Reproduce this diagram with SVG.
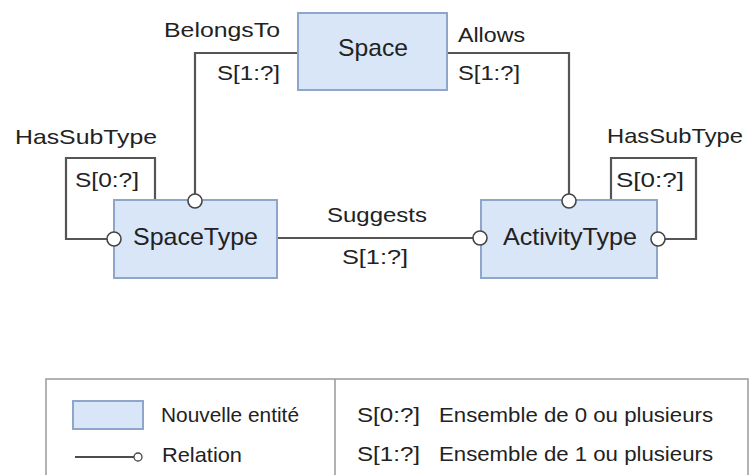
<svg xmlns="http://www.w3.org/2000/svg" width="751" height="475" viewBox="0 0 751 475">
<style>
.node{fill:#d9e6f8;stroke:#8ea6c9;stroke-width:2}
.con{fill:none;stroke:#555;stroke-width:2.2}
.end{fill:#fff;stroke:#444;stroke-width:1.6}
text{font-family:"Liberation Sans",Arial,sans-serif;fill:#222;font-size:21px}
.nm{font-size:24px}
.lg{font-size:21px}
</style>
<rect width="751" height="475" fill="#fff"/>
<g id="connectors">
<path class="con" d="M298,53 H195 V194"/>
<path class="con" d="M447,53 H569 V194"/>
<path class="con" d="M155,200 V158 H66 V239 H107"/>
<path class="con" d="M277,238 H473"/>
<path class="con" d="M611,200 V158 H696 V239 H664"/>
</g>
<g id="space">
<rect class="node" x="298" y="13" width="149" height="77"/>
<text class="nm" x="338" y="56" textLength="70" lengthAdjust="spacingAndGlyphs">Space</text>
</g>
<g id="spacetype">
<rect class="node" x="114" y="200" width="163" height="78"/>
<text class="nm" x="133" y="245" textLength="125" lengthAdjust="spacingAndGlyphs">SpaceType</text>
</g>
<g id="activitytype">
<rect class="node" x="481" y="200" width="176" height="78"/>
<text class="nm" x="503" y="245" textLength="134" lengthAdjust="spacingAndGlyphs">ActivityType</text>
</g>
<g id="ends">
<circle class="end" cx="195" cy="201" r="7"/>
<circle class="end" cx="569" cy="201" r="7"/>
<circle class="end" cx="114" cy="239" r="7"/>
<circle class="end" cx="480" cy="238" r="7"/>
<circle class="end" cx="658" cy="239" r="7"/>
</g>
<g id="labels">
<text x="164" y="37" textLength="116" lengthAdjust="spacingAndGlyphs">BelongsTo</text>
<text x="217" y="80" textLength="63" lengthAdjust="spacingAndGlyphs">S[1:?]</text>
<text x="458" y="42" textLength="67" lengthAdjust="spacingAndGlyphs">Allows</text>
<text x="458" y="80" textLength="62" lengthAdjust="spacingAndGlyphs">S[1:?]</text>
<text x="15" y="144" textLength="142" lengthAdjust="spacingAndGlyphs">HasSubType</text>
<text x="75" y="187" textLength="64" lengthAdjust="spacingAndGlyphs">S[0:?]</text>
<text x="327" y="222" textLength="100" lengthAdjust="spacingAndGlyphs">Suggests</text>
<text x="342" y="264" textLength="66" lengthAdjust="spacingAndGlyphs">S[1:?]</text>
<text x="607" y="143" textLength="136" lengthAdjust="spacingAndGlyphs">HasSubType</text>
<text x="616" y="187" textLength="68" lengthAdjust="spacingAndGlyphs">S[0:?]</text>
</g>
<g id="legend">
<rect x="46" y="379" width="702" height="110" fill="#fff" stroke="#999" stroke-width="1.5"/>
<line x1="335" y1="379" x2="335" y2="475" stroke="#999" stroke-width="1.5"/>
<rect class="node" x="73" y="401" width="70" height="28"/>
<text class="lg" x="161" y="422" textLength="138" lengthAdjust="spacingAndGlyphs">Nouvelle entité</text>
<line x1="75" y1="457" x2="134" y2="457" stroke="#111" stroke-width="1.5"/>
<circle cx="138" cy="457" r="4" fill="#fff" stroke="#444" stroke-width="1.3"/>
<text class="lg" x="162" y="462" textLength="80" lengthAdjust="spacingAndGlyphs">Relation</text>
<text class="lg" x="357" y="422" textLength="63" lengthAdjust="spacingAndGlyphs">S[0:?]</text>
<text class="lg" x="439" y="422" textLength="274" lengthAdjust="spacingAndGlyphs">Ensemble de 0 ou plusieurs</text>
<text class="lg" x="357" y="461" textLength="63" lengthAdjust="spacingAndGlyphs">S[1:?]</text>
<text class="lg" x="439" y="461" textLength="274" lengthAdjust="spacingAndGlyphs">Ensemble de 1 ou plusieurs</text>
</g>
</svg>
